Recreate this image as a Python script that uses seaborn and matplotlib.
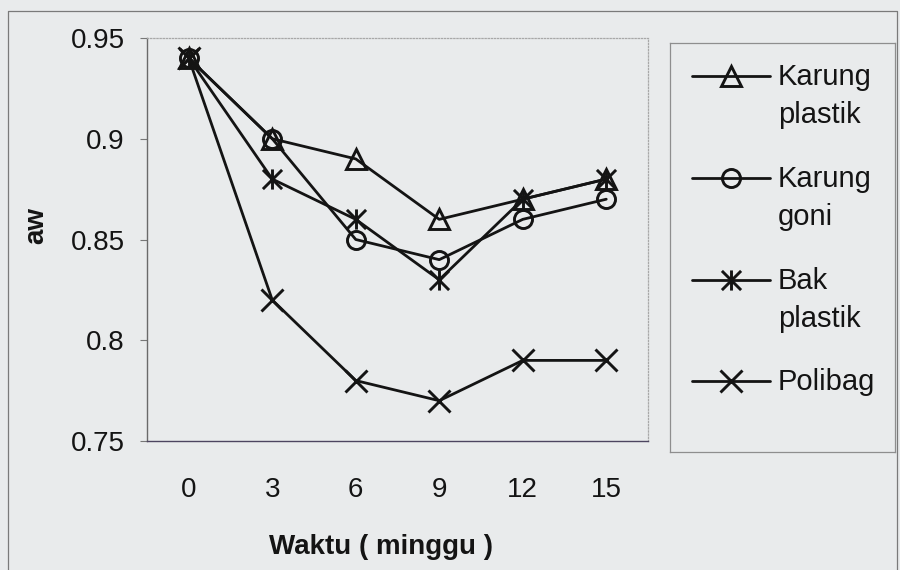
import matplotlib
matplotlib.use("Agg")
import matplotlib.pyplot as plt
from matplotlib.path import Path
from matplotlib.markers import MarkerStyle
from matplotlib.lines import Line2D
import pandas as pd
import seaborn as sns

# Water activity (aw) during storage, by packaging type
weeks = [0, 3, 6, 9, 12, 15]
karung_plastik = [0.94, 0.90, 0.89, 0.86, 0.87, 0.88]
karung_goni = [0.94, 0.90, 0.85, 0.84, 0.86, 0.87]
bak_plastik = [0.94, 0.88, 0.86, 0.83, 0.87, 0.88]
polibag = [0.94, 0.82, 0.78, 0.77, 0.79, 0.79]

series_names = ["Karung plastik", "Karung goni", "Bak plastik", "Polibag"]
series_values = [karung_plastik, karung_goni, bak_plastik, polibag]

y_ticks = [0.75, 0.80, 0.85, 0.90, 0.95]
y_tick_labels = ["0.75", "0.8", "0.85", "0.9", "0.95"]
x_tick_labels = ["0", "3", "6", "9", "12", "15"]
x_label = "Waktu ( minggu )"
y_label = "aw"

sns.set_theme(style="white")
plt.rcParams["font.family"] = ["Liberation Sans", "DejaVu Sans"]

BG = "#e9ebec"
INK = "#141414"

# Excel-like "star" marker: an X crossed by a vertical bar
star_path = Path(
    [(-1, -1), (1, 1), (-1, 1), (1, -1), (0, -1.05), (0, 1.05)],
    [Path.MOVETO, Path.LINETO, Path.MOVETO, Path.LINETO, Path.MOVETO, Path.LINETO],
)
marker_styles = {
    "Karung plastik": MarkerStyle("^", fillstyle="none"),
    "Karung goni": MarkerStyle("o", fillstyle="none"),
    "Bak plastik": MarkerStyle(star_path, fillstyle="none"),
    "Polibag": MarkerStyle("x", fillstyle="none"),
}
marker_sizes = {"Karung plastik": 14.5, "Karung goni": 13, "Bak plastik": 14.5, "Polibag": 15.5}
LW = 2.0
MEW = 2.1

df = pd.DataFrame(
    [(w, v, name) for name, vals in zip(series_names, series_values) for w, v in zip(weeks, vals)],
    columns=["week", "aw", "kemasan"],
)

fig = plt.figure(figsize=(9, 5.7), dpi=100, facecolor=BG)
ax = fig.add_axes([147 / 900, 1 - 441 / 570, 501 / 900, 403 / 570])
ax.set_facecolor(BG)

sns.lineplot(
    data=df, x="week", y="aw", style="kemasan", style_order=series_names,
    markers=marker_styles, dashes=False, color=INK, linewidth=LW,
    markeredgecolor=INK, markerfacecolor="none", markeredgewidth=MEW,
    legend=False, ax=ax,
)
for line, name in zip(ax.lines, series_names):
    line.set_markersize(marker_sizes[name])

# axes ranges and ticks
ax.set_xlim(-1.5, 16.5)
ax.set_ylim(0.75, 0.95)
ax.set_yticks(y_ticks)
ax.set_yticklabels(y_tick_labels)
ax.set_xticks(weeks)
ax.set_xticklabels(x_tick_labels)
ax.set_xticks([w - 1.5 for w in weeks] + [weeks[-1] + 1.5], minor=True)
ax.tick_params(axis="x", which="major", length=0, pad=26, labelsize=20, labelcolor=INK)
ax.tick_params(axis="x", which="minor", length=6, width=0.8, color="#777777", direction="out")
ax.tick_params(axis="y", which="major", left=True, length=5, width=0.8, color="#777777",
               direction="out", pad=11, labelsize=20, labelcolor=INK)
ax.grid(False)

ax.set_xlabel(x_label, fontsize=20, fontweight="bold", color=INK)
ax.xaxis.set_label_coords((381 - 147) / 501, (441 - 547) / 403)
ax.xaxis.label.set_va("center")
ax.set_ylabel(y_label, fontsize=20, fontweight="bold", color=INK)
ax.yaxis.set_label_coords((36 - 147) / 501, (441 - 225) / 403)
ax.yaxis.label.set_va("center")

# plot-area border
ax.spines["left"].set_color("#6a6a6a")
ax.spines["left"].set_linewidth(1.0)
ax.spines["bottom"].set_color("#4d4560")
ax.spines["bottom"].set_linewidth(1.0)
ax.spines["bottom"].set_linestyle((0, (1.0, 1.0)))
for side in ("top", "right"):
    ax.spines[side].set_visible(True)
    ax.spines[side].set_color("#a8a8a8")
    ax.spines[side].set_linewidth(0.9)
    ax.spines[side].set_linestyle((0, (1.0, 1.5)))

# chart outer frame
fx0, fx1, fy1 = 8 / 900, 897 / 900, 1 - 11 / 570
fig.add_artist(Line2D([fx0, fx0, fx1, fx1], [0, fy1, fy1, 0], transform=fig.transFigure,
                      color="#7a7a7a", linewidth=0.9))

# legend panel (pixel layout)
lax = fig.add_axes([670 / 900, 1 - 452 / 570, 225 / 900, 409 / 570])
lax.set_xlim(670, 895)
lax.set_ylim(452, 43)
lax.set_facecolor(BG)
lax.set_xticks([])
lax.set_yticks([])
for sp in lax.spines.values():
    sp.set_color("#8e8e8e")
    sp.set_linewidth(0.9)

legend_baselines = [85, 187, 289, 390]
line_gap = 38
for name, base in zip(series_names, legend_baselines):
    yc = base - 9
    lax.plot([692, 770], [yc, yc], color=INK, linewidth=LW)
    lax.plot([731], [yc], linestyle="none", marker=marker_styles[name],
             markersize=marker_sizes[name], markeredgecolor=INK,
             markerfacecolor="none", markeredgewidth=MEW)
    for i, part in enumerate(name.split(" ", 1)):
        lax.text(778, base + i * line_gap, part, fontsize=21, color=INK,
                 ha="left", va="baseline")

fig.savefig("out.png", dpi=100, facecolor=BG)
